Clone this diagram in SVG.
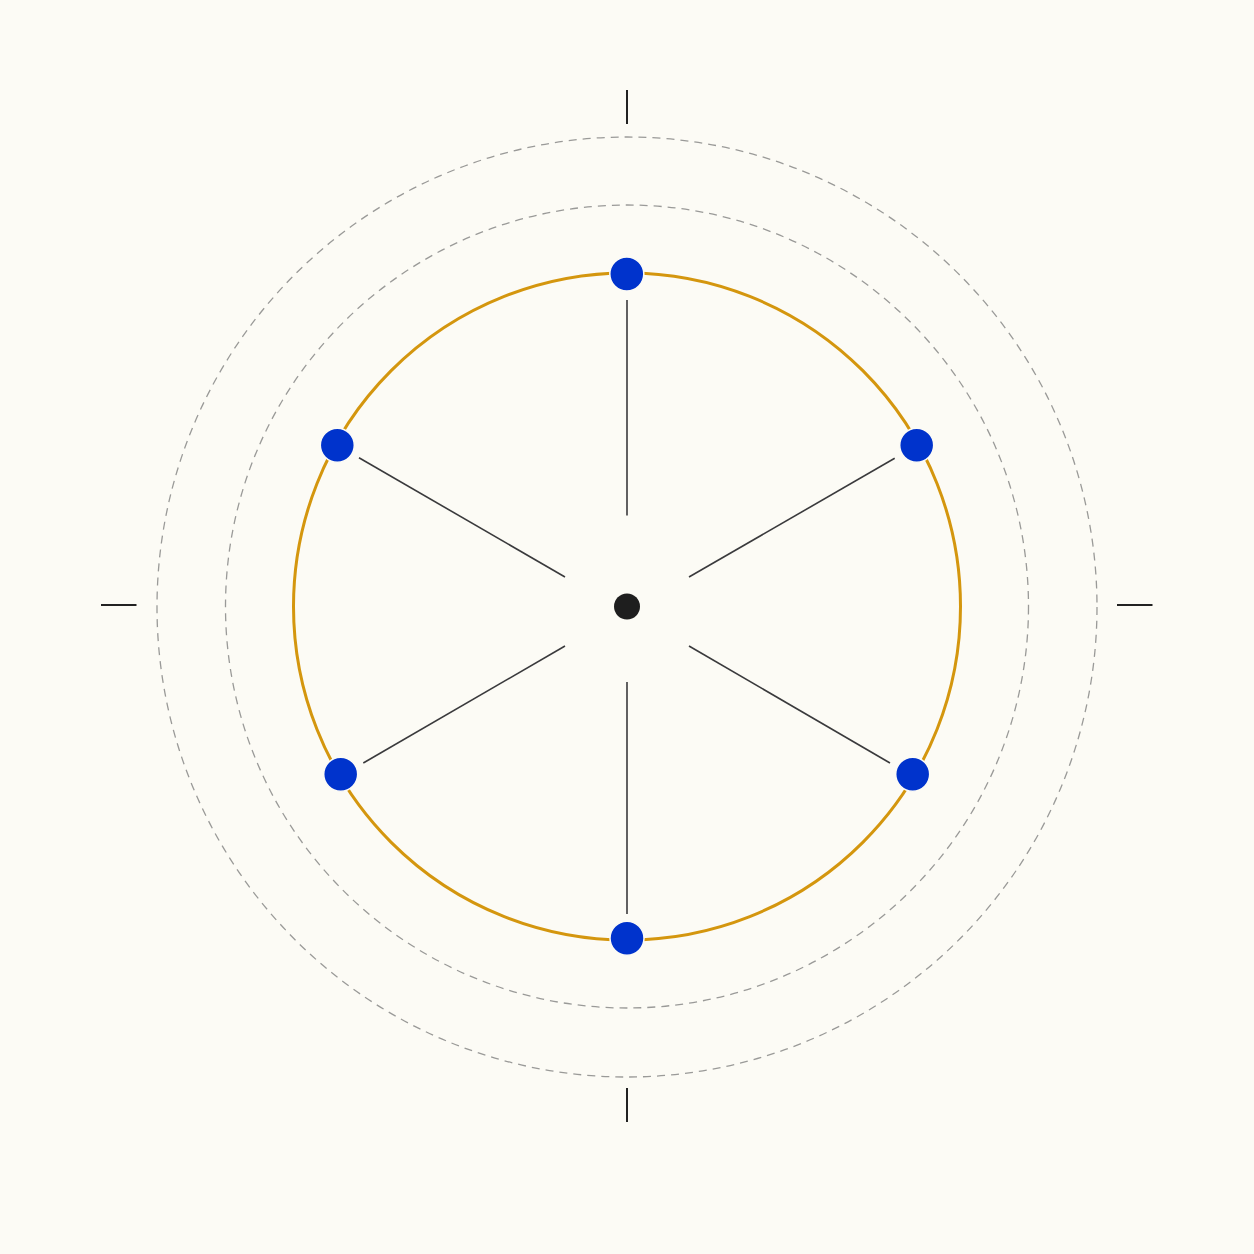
<svg xmlns="http://www.w3.org/2000/svg" width="1254" height="1254" viewBox="0 0 1254 1254">
  <style>
    .dash { fill: none; stroke: #9a9a98; stroke-width: 1.3; stroke-dasharray: 8 6; }
    .ring { fill: none; stroke: #d4960e; stroke-width: 3; }
    .spoke { stroke: #3a3a3c; stroke-width: 1.6; stroke-linecap: butt; }
    .tick { stroke: #222; stroke-width: 2; }
    .node { fill: #0033cc; stroke: #fcfbf5; stroke-width: 1.5; }
  </style>
  <rect width="1254" height="1254" fill="#fcfbf5"/>
  <g id="guides">
    <circle class="dash" cx="627" cy="607" r="470"/>
    <circle class="dash" cx="627" cy="606.5" r="401.5"/>
    <line class="tick" x1="627" y1="90" x2="627" y2="124"/>
    <line class="tick" x1="627" y1="1088" x2="627" y2="1122"/>
    <line class="tick" x1="101" y1="605" x2="136.5" y2="605"/>
    <line class="tick" x1="1117" y1="605" x2="1152.5" y2="605"/>
  </g>
  <g id="ring">
    <circle class="ring" cx="627" cy="606.5" r="333.5"/>
  </g>
  <g id="connectors">
    <line class="spoke" x1="627" y1="300" x2="627" y2="515.5"/>
    <line class="spoke" x1="689" y1="577" x2="894.7" y2="458.3"/>
    <line class="spoke" x1="565" y1="577" x2="359" y2="457.7"/>
    <line class="spoke" x1="565" y1="646" x2="363.3" y2="763"/>
    <line class="spoke" x1="689" y1="646" x2="890" y2="763"/>
    <line class="spoke" x1="627" y1="682" x2="627" y2="914"/>
  </g>
  <g id="center">
    <circle cx="627" cy="606.5" r="13" fill="#1e1e1e"/>
  </g>
  <g id="node-top"><circle class="node" cx="626.8" cy="274" r="17"/></g>
  <g id="node-upper-right"><circle class="node" cx="916.7" cy="445.3" r="17"/></g>
  <g id="node-lower-right"><circle class="node" cx="912.7" cy="774.3" r="17"/></g>
  <g id="node-bottom"><circle class="node" cx="627" cy="938.3" r="17"/></g>
  <g id="node-lower-left"><circle class="node" cx="340.7" cy="774.3" r="17"/></g>
  <g id="node-upper-left"><circle class="node" cx="337.3" cy="445.3" r="17"/></g>
</svg>
